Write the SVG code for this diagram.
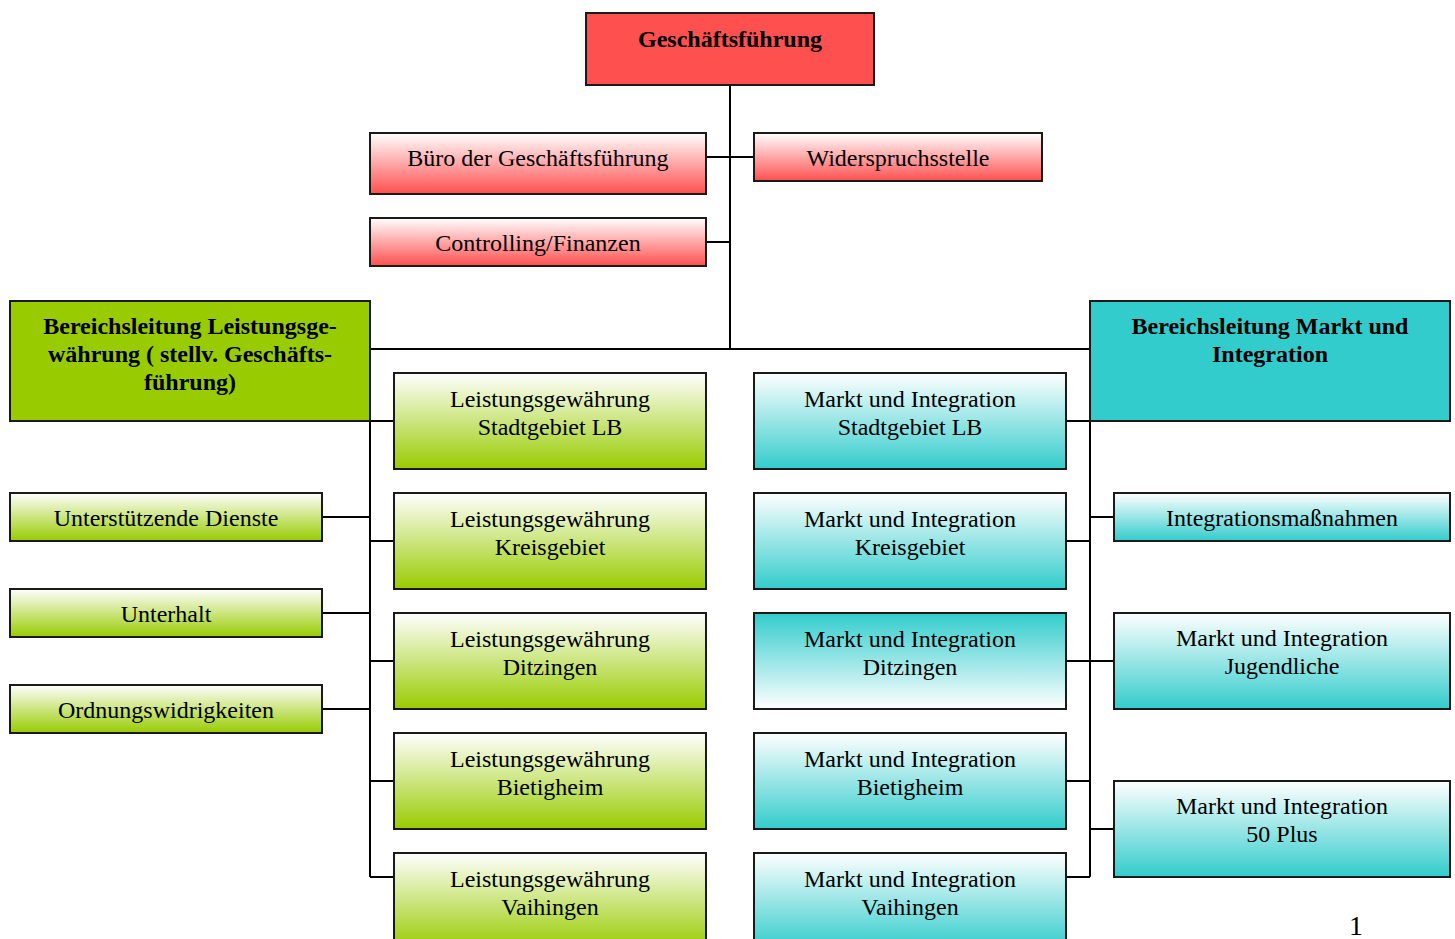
<svg xmlns="http://www.w3.org/2000/svg" width="1455" height="939" viewBox="0 0 1455 939">
<defs>
<linearGradient id="gRed" x1="0" y1="0" x2="0" y2="1"><stop offset="0" stop-color="#ffffff"/><stop offset="1" stop-color="#ff4f4f"/></linearGradient>
<linearGradient id="gGreen" x1="0" y1="0" x2="0" y2="1"><stop offset="0" stop-color="#ffffff"/><stop offset="1" stop-color="#99cc00"/></linearGradient>
<linearGradient id="gTeal" x1="0" y1="0" x2="0" y2="1"><stop offset="0" stop-color="#ffffff"/><stop offset="1" stop-color="#33cccc"/></linearGradient>
<linearGradient id="gTealRev" x1="0" y1="0" x2="0" y2="1"><stop offset="0" stop-color="#33cccc"/><stop offset="1" stop-color="#ffffff"/></linearGradient>
</defs>
<style>
rect{stroke:#1a1a1a;stroke-width:2}
text{font-family:"Liberation Serif","Times New Roman",serif;font-size:24px;fill:#000;text-anchor:middle}
.b{font-weight:bold}
.c{stroke:#000;stroke-width:2;fill:none}
</style>
<rect x="0" y="0" width="1455" height="939" fill="#fff" style="stroke:none"/>
<g id="connectors">
<path class="c" d="M730 85V349M706 157H754M706 242H730M370 349H1090"/>
<path class="c" d="M370 421V877M370 421H394M370 541H394M370 661H394M370 781H394M370 877H394M322 517H370M322 613H370M322 709H370"/>
<path class="c" d="M1090 421V877M1066 421H1090M1066 541H1090M1066 661H1114M1066 781H1090M1066 877H1090M1090 517H1114M1090 829H1114"/>
</g>
<g id="n-gf"><rect x="586" y="13" width="288" height="72" fill="#ff5050"/><text class="b" x="730" y="47">Geschäftsführung</text></g>
<g id="n-buero"><rect x="370" y="133" width="336" height="61" fill="url(#gRed)"/><text x="538" y="166">Büro der Geschäftsführung</text></g>
<g id="n-wider"><rect x="754" y="133" width="288" height="48" fill="url(#gRed)"/><text x="898" y="166">Widerspruchsstelle</text></g>
<g id="n-contr"><rect x="370" y="218" width="336" height="48" fill="url(#gRed)"/><text x="538" y="251">Controlling/Finanzen</text></g>
<g id="n-blg"><rect x="10" y="301" width="360" height="120" fill="#99cc00"/><text class="b" x="190" y="334">Bereichsleitung Leistungsge-</text><text class="b" x="190" y="362">währung ( stellv. Geschäfts-</text><text class="b" x="190" y="390">führung)</text></g>
<g id="n-bmi"><rect x="1090" y="301" width="360" height="120" fill="#33cccc"/><text class="b" x="1270" y="334">Bereichsleitung Markt und</text><text class="b" x="1270" y="362">Integration</text></g>
<g id="n-ud"><rect x="10" y="493" width="312" height="48" fill="url(#gGreen)"/><text x="166" y="526">Unterstützende Dienste</text></g>
<g id="n-uh"><rect x="10" y="589" width="312" height="48" fill="url(#gGreen)"/><text x="166" y="622">Unterhalt</text></g>
<g id="n-ow"><rect x="10" y="685" width="312" height="48" fill="url(#gGreen)"/><text x="166" y="718">Ordnungswidrigkeiten</text></g>
<g id="n-lg1"><rect x="394" y="373" width="312" height="96" fill="url(#gGreen)"/><text x="550" y="407">Leistungsgewährung</text><text x="550" y="435">Stadtgebiet LB</text></g>
<g id="n-lg2"><rect x="394" y="493" width="312" height="96" fill="url(#gGreen)"/><text x="550" y="527">Leistungsgewährung</text><text x="550" y="555">Kreisgebiet</text></g>
<g id="n-lg3"><rect x="394" y="613" width="312" height="96" fill="url(#gGreen)"/><text x="550" y="647">Leistungsgewährung</text><text x="550" y="675">Ditzingen</text></g>
<g id="n-lg4"><rect x="394" y="733" width="312" height="96" fill="url(#gGreen)"/><text x="550" y="767">Leistungsgewährung</text><text x="550" y="795">Bietigheim</text></g>
<g id="n-lg5"><rect x="394" y="853" width="312" height="96" fill="url(#gGreen)"/><text x="550" y="887">Leistungsgewährung</text><text x="550" y="915">Vaihingen</text></g>
<g id="n-mi1"><rect x="754" y="373" width="312" height="96" fill="url(#gTeal)"/><text x="910" y="407">Markt und Integration</text><text x="910" y="435">Stadtgebiet LB</text></g>
<g id="n-mi2"><rect x="754" y="493" width="312" height="96" fill="url(#gTeal)"/><text x="910" y="527">Markt und Integration</text><text x="910" y="555">Kreisgebiet</text></g>
<g id="n-mi3"><rect x="754" y="613" width="312" height="96" fill="url(#gTealRev)"/><text x="910" y="647">Markt und Integration</text><text x="910" y="675">Ditzingen</text></g>
<g id="n-mi4"><rect x="754" y="733" width="312" height="96" fill="url(#gTeal)"/><text x="910" y="767">Markt und Integration</text><text x="910" y="795">Bietigheim</text></g>
<g id="n-mi5"><rect x="754" y="853" width="312" height="96" fill="url(#gTeal)"/><text x="910" y="887">Markt und Integration</text><text x="910" y="915">Vaihingen</text></g>
<g id="n-im"><rect x="1114" y="493" width="336" height="48" fill="url(#gTeal)"/><text x="1282" y="526">Integrationsmaßnahmen</text></g>
<g id="n-jug"><rect x="1114" y="613" width="336" height="96" fill="url(#gTeal)"/><text x="1282" y="646">Markt und Integration</text><text x="1282" y="674">Jugendliche</text></g>
<g id="n-50"><rect x="1114" y="781" width="336" height="96" fill="url(#gTeal)"/><text x="1282" y="814">Markt und Integration</text><text x="1282" y="842">50 Plus</text></g>
<text x="1356" y="935" style="font-size:28px">1</text>
</svg>
